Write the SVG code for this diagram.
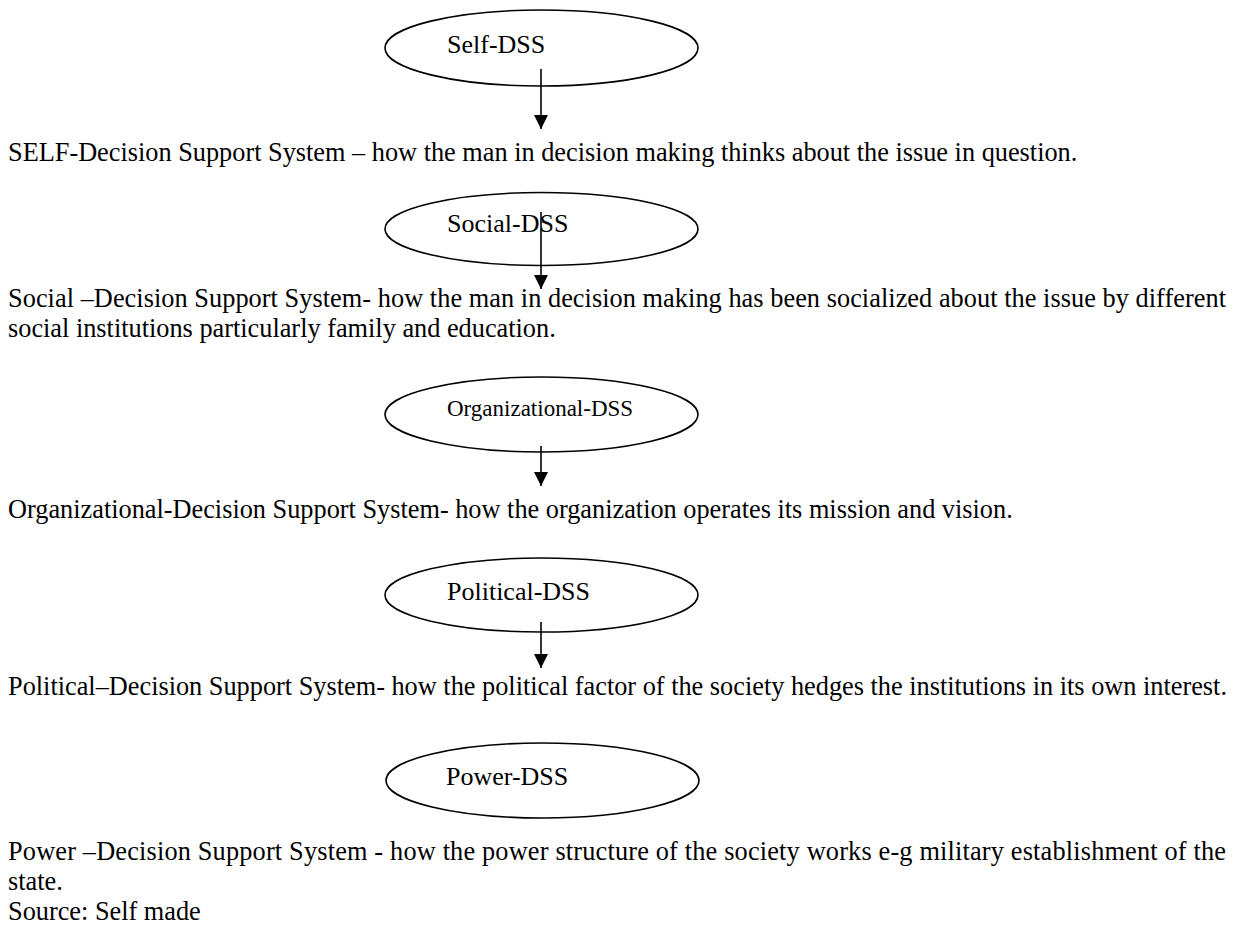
<svg xmlns="http://www.w3.org/2000/svg" width="1235" height="926" viewBox="0 0 1235 926">
<style>
  .bg{fill:#ffffff}
  .node ellipse{fill:#ffffff;stroke:#000000;stroke-width:1.6}
  .lbl{font-family:"Liberation Serif","Times New Roman",serif;font-size:26px;fill:#000000}
  .lbl-s{font-family:"Liberation Serif","Times New Roman",serif;font-size:23px;fill:#000000}
  .body{font-family:"Liberation Serif","Times New Roman",serif;font-size:26.3px;fill:#000000}
  .conn line{stroke:#000000;stroke-width:1.6}
</style>
<defs>
  <marker id="ah" markerUnits="userSpaceOnUse" markerWidth="14" markerHeight="14" refX="14" refY="7" orient="auto">
    <path d="M0,0 L14,7 L0,14 Z" fill="#000000"/>
  </marker>
</defs>
<rect class="bg" x="0" y="0" width="1235" height="926"/>

<g id="node-self" class="node">
  <ellipse cx="541.5" cy="48" rx="156.5" ry="38"/>
  <text class="lbl" x="447" y="53">Self-DSS</text>
</g>
<g id="node-social" class="node">
  <ellipse cx="541.5" cy="229" rx="156.5" ry="36.5"/>
  <text class="lbl" x="447" y="232">Social-DSS</text>
</g>
<g id="node-org" class="node">
  <ellipse cx="541.5" cy="414.5" rx="156.5" ry="37.5"/>
  <text class="lbl-s" x="447" y="416">Organizational-DSS</text>
</g>
<g id="node-political" class="node">
  <ellipse cx="541.5" cy="595" rx="156.5" ry="37"/>
  <text class="lbl" x="447" y="600">Political-DSS</text>
</g>
<g id="node-power" class="node">
  <ellipse cx="542.5" cy="780.5" rx="156.5" ry="37.5"/>
  <text class="lbl" x="446" y="785">Power-DSS</text>
</g>

<g id="connectors" class="conn">
  <line x1="541" y1="69" x2="541" y2="129" marker-end="url(#ah)"/>
  <line x1="541" y1="212" x2="541" y2="289" marker-end="url(#ah)"/>
  <line x1="541" y1="446" x2="541" y2="486" marker-end="url(#ah)"/>
  <line x1="541" y1="622" x2="541" y2="668" marker-end="url(#ah)"/>
</g>

<g id="texts">
  <text class="body" x="8" y="161">SELF-Decision Support System – how the man in decision making thinks about the issue in question.</text>
  <text class="body" x="8" y="307" textLength="1218" lengthAdjust="spacing">Social –Decision Support System- how the man in decision making has been socialized about the issue by different</text>
  <text class="body" x="8" y="337">social institutions particularly family and education.</text>
  <text class="body" x="8" y="518">Organizational-Decision Support System- how the organization operates its mission and vision.</text>
  <text class="body" x="8" y="695">Political–Decision Support System- how the political factor of the society hedges the institutions in its own interest.</text>
  <text class="body" x="8" y="860" textLength="1218" lengthAdjust="spacing">Power –Decision Support System - how the power structure of the society works e-g military establishment of the</text>
  <text class="body" x="8" y="890">state.</text>
  <text class="body" x="8" y="920">Source: Self made</text>
</g>
</svg>
